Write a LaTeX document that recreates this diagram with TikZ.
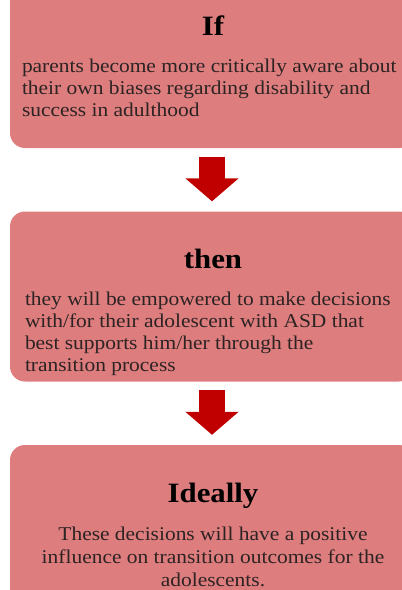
\documentclass[tikz,border=0pt]{standalone}
\usepackage{fontspec}
\setmainfont{Liberation Serif}[FakeStretch=1.1]
\usepackage{tikz}
\usetikzlibrary{arrows.meta}
\usetikzlibrary{positioning}
\usetikzlibrary{calc}
\usepackage{xcolor}
\definecolor{boxred}{RGB}{221,125,126}
\definecolor{arrowred}{RGB}{192,0,0}
\definecolor{bodytext}{RGB}{45,35,35}
\tikzset{
  % Common styles for the flow chart
  stage/.style={rectangle, fill=boxred, rounded corners=15pt, minimum width=404pt, minimum height=170pt, inner sep=0pt},
  heading/.style={font=\fontsize{28}{32}\selectfont\bfseries, text=black, inner sep=0pt},
  body/.style={font=\fontsize{19.5}{22}\selectfont, text=bodytext, inner sep=0pt}
}

\begin{document}
\begin{tikzpicture}[x=1pt, y=1pt, node distance=233.5pt]
    % Define styles
    \tikzstyle{flow} = [draw=arrowred, line width=26pt, -{Triangle[length=23pt, width=52pt]}, shorten <=8.5pt, shorten >=10pt]
    \path[use as bounding box, clip] (0,0) rectangle (402,-590);

    % Place nodes
    \node [stage] (ifbox) at (212,-63) {};
    \node [stage, below of=ifbox] (thenbox) {};
    \node [stage, below of=thenbox] (ideallybox) {};

    \node [heading, anchor=base] (iftitle) at ([xshift=1pt, yshift=-57.5pt]ifbox.north) {If};
    \node [heading, anchor=base] (thentitle) at ([xshift=1pt, yshift=-57.5pt]thenbox.north) {then};
    \node [heading, anchor=base] (ideallytitle) at ([xshift=1pt, yshift=-57.5pt]ideallybox.north) {Ideally};

    % base of a multi-line node is its last line
    \node [body, align=left, anchor=base west] (iftext) at ($(ifbox.west |- iftitle.base)+(12,-81)$)
      {parents become more critically aware about\\their own biases regarding disability and\\success in adulthood};
    \node [body, align=left, anchor=base west] (thentext) at ($(thenbox.west |- thentitle.base)+(15,-103)$)
      {they will be empowered to make decisions\\with/for their adolescent with ASD that\\best supports him/her through the\\transition process};
    \node [body, align=center, anchor=base, font=\fontsize{19.5}{23}\selectfont] (ideallytext) at ([yshift=-84pt]ideallytitle.base)
      {These decisions will have a positive\\influence on transition outcomes for the\\adolescents.};

    % Draw edges
    \path [flow] (ifbox) -- (thenbox);
    \path [flow] (thenbox) -- (ideallybox);

\end{tikzpicture}
\end{document}
